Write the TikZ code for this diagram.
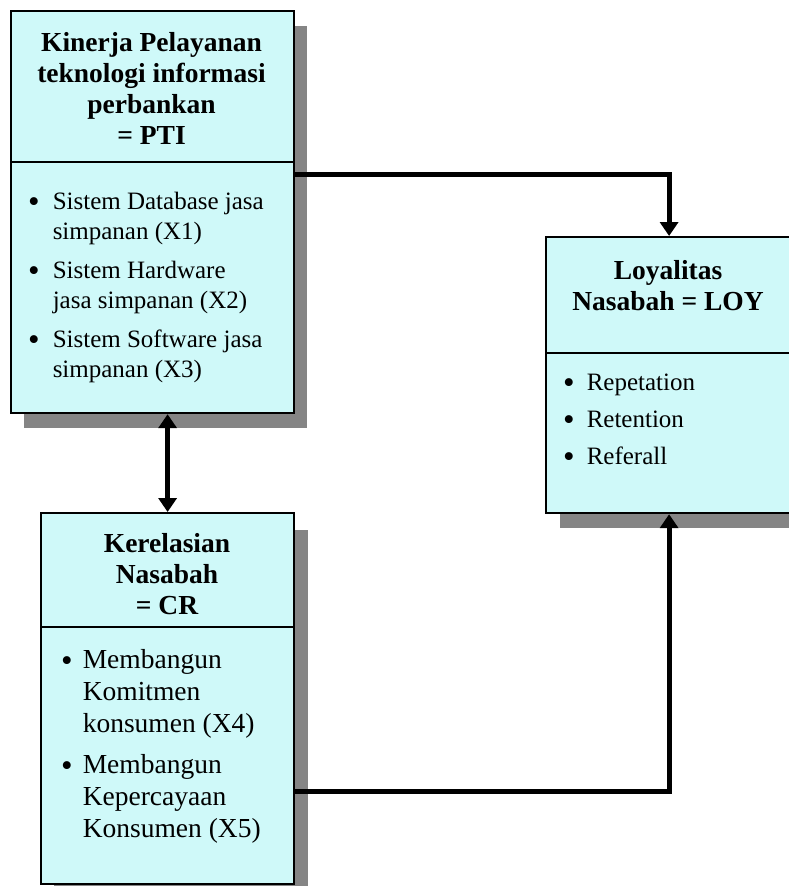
\documentclass[tikz,border=0pt]{standalone}
\usepackage{fontspec}
\setmainfont{Liberation Serif}
\usetikzlibrary{arrows.meta}
\definecolor{boxfill}{HTML}{CFF9F9}
\definecolor{shadowgray}{HTML}{858585}
\newcommand{\bigbul}{\raisebox{-3pt}{\fontsize{33}{33}\selectfont\textbullet}}
\begin{document}
\begin{tikzpicture}[x=1pt,y=-1pt,
  part/.style={draw=black, line width=2.2pt, fill=boxfill, anchor=north west, inner sep=0pt},
  boxshade/.style={fill=shadowgray},
  conn/.style={line width=5pt, -{Triangle[width=18pt,length=14pt]}},
  conntwo/.style={line width=5pt, {Triangle[width=18pt,length=14pt]}-{Triangle[width=18pt,length=14pt]}},
  hdr/.style={font=\bfseries\fontsize{27.5}{31}\selectfont, align=center, inner sep=0pt},
  bodytxt/.style={anchor=base west, inner sep=0pt}]
\useasboundingbox (0,0) rectangle (789,886);
% shadows
\fill[boxshade] (24,26) rectangle (307,428);
\fill[boxshade] (54,530) rectangle (308,900);
\fill[boxshade] (560,252) rectangle (810,528);
% boxes
\node[part, minimum width=283pt, minimum height=151pt] (ptih) at (10,10) {};
\node[part, minimum width=283pt, minimum height=251pt] (ptib) at (10,161) {};
\node[part, minimum width=253pt, minimum height=114pt] (crh) at (40,512) {};
\node[part, minimum width=253pt, minimum height=257pt] (crb) at (40,626) {};
\node[part, minimum width=246pt, minimum height=116pt] (loyh) at (545,236) {};
\node[part, minimum width=246pt, minimum height=160pt] (loyb) at (545,352) {};
% header texts
\node[hdr] (ptiht) at (151.5,88.5) {Kinerja Pelayanan\\teknologi informasi\\perbankan\\= PTI};
\node[hdr] (crht) at (167,574) {Kerelasian\\Nasabah\\= CR};
\node[hdr] (loyht) at (668,286) {Loyalitas\\Nasabah = LOY};
% body texts
\node[bodytxt] (ptibt) at (28,209) {\fontsize{25}{30}\selectfont
  \begin{tabular}[t]{@{}l@{\hspace{13pt}}l@{}}
  \bigbul & Sistem Database jasa\\
   & simpanan (X1)\\[9pt]
  \bigbul & Sistem Hardware\\
   & jasa simpanan (X2)\\[9pt]
  \bigbul & Sistem Software jasa\\
   & simpanan (X3)
  \end{tabular}};
\node[bodytxt] (loybt) at (563,390) {\fontsize{25}{25}\selectfont
  \begin{tabular}[t]{@{}l@{\hspace{12pt}}l@{}}
  \bigbul & Repetation\\[12pt]
  \bigbul & Retention\\[12pt]
  \bigbul & Referall
  \end{tabular}};
\node[bodytxt] (crbt) at (61,668) {\fontsize{27.5}{32}\selectfont
  \begin{tabular}[t]{@{}l@{\hspace{10pt}}l@{}}
  \bigbul & Membangun\\
   & Komitmen\\
   & konsumen (X4)\\[9pt]
  \bigbul & Membangun\\
   & Kepercayaan\\
   & Konsumen (X5)
  \end{tabular}};
% connectors
\draw[conn] ([yshift=-11pt]ptih.south east) -| (loyh.north);
\draw[conn] ([yshift=-35.5pt]crb.east) -| (loyb.south);
\draw[conntwo] (crh.north |- ptib.south) -- (crh.north);
\end{tikzpicture}
\end{document}
